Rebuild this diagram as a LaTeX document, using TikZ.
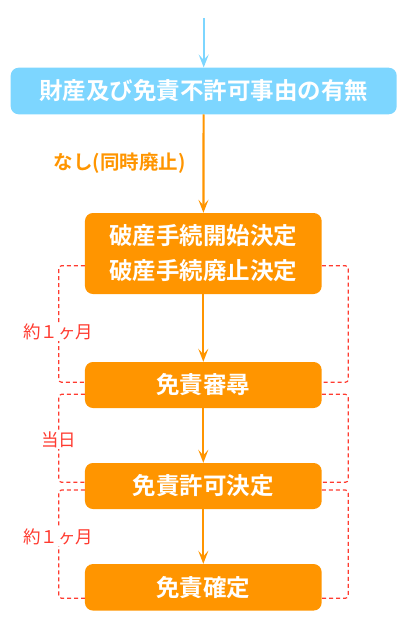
\documentclass[tikz,border=0pt]{standalone}
\usepackage{fontspec}
\usepackage{tikz}
\usetikzlibrary{arrows.meta}
\newfontfamily\jp[BoldFont={Noto Sans CJK JP Bold}]{Noto Sans CJK JP}
\definecolor{skyblue}{HTML}{7DD6FF}
\definecolor{flowor}{HTML}{FF9500}
\definecolor{gapred}{HTML}{FF3B30}

\begin{document}
\begin{tikzpicture}[x=1pt, y=-1pt,
    stepbox/.style={fill=flowor, rounded corners=8pt, minimum width=236.7pt,
        text=white, align=center, font=\jp\bfseries\fontsize{23.5}{35}\selectfont},
    flow/.style={flowor, line width=2.2pt, -{Stealth[length=13pt, width=10pt, inset=5.5pt]}},
    gap/.style={gapred, line width=1.2pt, dash pattern=on 4pt off 3pt, rounded corners=3pt},
    gaplabel/.style={text=gapred, font=\jp\fontsize{17.5}{20}\selectfont}]

          \useasboundingbox (0,0) rectangle (406,620);

          % Boxes of the procedure
          \node[fill=skyblue, rounded corners=8pt, minimum width=386pt, minimum height=46.6pt,
                text=white, font=\jp\bfseries\fontsize{23.5}{28}\selectfont] (check) at (203.7,91) {財産及び免責不許可事由の有無};
          \node[stepbox, minimum height=81pt] (start) at (203.3,253.5) {破産手続開始決定\\破産手続廃止決定};
          \node[stepbox, minimum height=46pt] (hear) at (203.3,385) {免責審尋};
          \node[stepbox, minimum height=46pt] (grant) at (203.3,486) {免責許可決定};
          \node[stepbox, minimum height=46.5pt] (final) at (203.3,587.3) {免責確定};

          % Arrows
          \coordinate (in) at (203.7,18);
          \draw[skyblue, line width=1.8pt, -{Stealth[length=13pt, width=10pt, inset=5.5pt]}] (in) -- (check);
          \draw[flow] (check) -- (start);
          \draw[flow] (start) -- (hear);
          \draw[flow] (hear) -- (grant);
          \draw[flow] (grant) -- (final);

          \node[text=flowor, font=\jp\bfseries\fontsize{19.5}{22}\selectfont] (none) at (119.5,163.5) {なし(同時廃止)};

          % Dashed brackets for the periods
          \draw[gap] (start.west |- 0,265.7) -- (58.7,265.7) -- (58.7,382.3) -- (hear.west |- 0,382.3);
          \draw[gap] (start.east |- 0,265.7) -- (348.3,265.7) -- (348.3,382.3) -- (hear.east |- 0,382.3);
          \draw[gap] (hear.west |- 0,394.3) -- (58.7,394.3) -- (58.7,482.3) -- (grant.west |- 0,482.3);
          \draw[gap] (hear.east |- 0,394.3) -- (348.3,394.3) -- (348.3,482.3) -- (grant.east |- 0,482.3);
          \draw[gap] (grant.west |- 0,490) -- (58.7,490) -- (58.7,598.3) -- (final.west |- 0,598.3);
          \draw[gap] (grant.east |- 0,490) -- (348.3,490) -- (348.3,598.3) -- (final.east |- 0,598.3);

          \node[gaplabel, fill=white, inner sep=1pt] (month1) at (58,332) {約１ヶ月};
          \node[gaplabel, fill=white, inner sep=1pt] (sameday) at (58.5,440) {当日};
          \node[gaplabel, fill=white, inner sep=1pt] (month2) at (58,537) {約１ヶ月};

\end{tikzpicture}
\end{document}
